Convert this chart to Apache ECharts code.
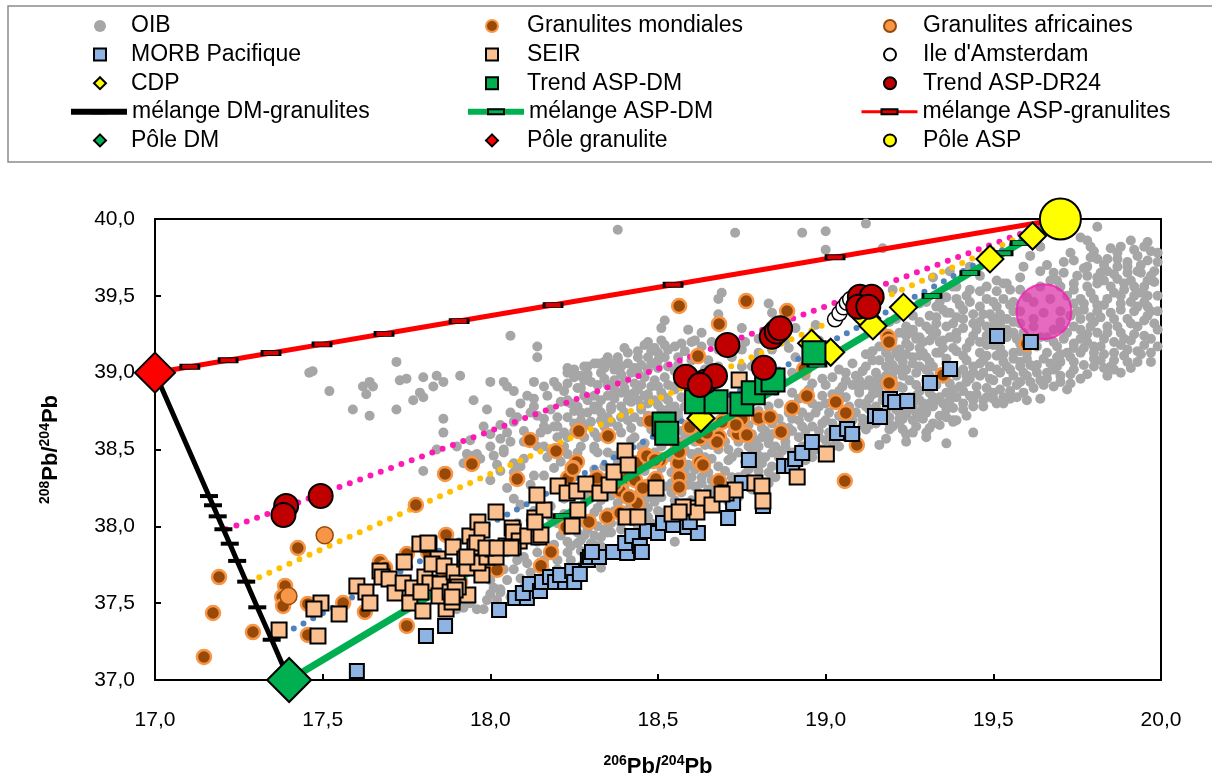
<!DOCTYPE html>
<html><head><meta charset="utf-8">
<script src="https://cdn.jsdelivr.net/npm/echarts@6/dist/echarts.min.js"></script>
<style>html,body{margin:0;padding:0;background:#fff}#c{width:1212px;height:778px}</style>
</head><body><div id="c"></div>
<script>
// ---------------- DATA (206Pb/204Pb, 208Pb/204Pb) ----------------
const oib = [
[17.46,39.00],[17.47,39.01],[17.52,38.88],[17.59,38.76],[17.62,38.91],[17.64,38.94],[17.63,38.86],[17.65,38.91],[17.64,38.72],[17.72,39.07],[17.72,38.76],[17.73,38.95],[17.75,38.96],[17.77,38.82],[17.79,38.87],[17.80,38.97],[17.80,38.84],[17.84,38.98],[17.83,38.91],[17.86,38.94],[17.86,38.70],[17.86,38.61],[17.91,38.98],[17.95,38.82],[17.99,38.76],[18.00,38.94],[18.04,38.94],[18.05,38.91],[18.07,38.88],[18.06,39.24],[18.14,39.17],[18.14,39.10],[18.23,39.03],[18.13,38.94],[18.16,38.91],[18.19,38.94],[18.20,38.91],[18.13,38.83],[18.13,38.78],[18.12,38.74],[18.08,38.71],[18.07,38.68],[18.05,38.61],[18.03,38.57],[18.04,38.50],[18.00,38.52],[17.93,38.47],[17.96,38.47],[17.84,38.50],[18.21,38.81],[18.23,38.81],[18.19,38.65],[18.16,38.65],[18.13,38.57],
[17.80,38.36],[18.24,38.80],[18.25,38.97],[18.27,38.98],[18.29,39.04],[18.28,38.95],[18.26,38.90],[18.14,38.72],[18.15,38.61],[18.17,38.63],[18.20,38.65],[18.20,38.58],[18.18,38.50],[18.16,38.52],[18.22,38.52],[18.26,38.48],[18.31,38.52],[18.32,38.48],[18.35,38.48],[18.31,38.61],[18.29,38.66],[18.27,38.74],[18.31,38.76],[18.29,38.82],[18.33,38.82],[18.31,38.85],[18.35,38.85],[18.37,38.83],[18.36,38.78],[18.39,38.78],[18.42,38.81],[18.39,38.71],[18.41,38.69],[18.32,38.92],[18.35,38.92],[18.37,38.92],[18.40,38.95],[18.43,38.93],[18.46,38.97],[18.49,38.95],[18.52,38.97],[18.34,39.03],[18.37,39.02],[18.39,39.04],[18.41,39.06],[18.44,39.10],[18.47,39.10],[18.50,39.13],[18.53,39.15],[18.55,39.17],[18.35,39.10],[18.38,39.10],[18.47,39.20],[18.51,39.29],[18.52,39.34],[18.49,39.16],[18.44,39.00],[18.47,39.02],[18.50,39.03],[18.53,39.04],[18.53,38.92],[18.55,38.89],[18.49,38.82],[18.52,38.84],[18.46,38.85],[18.43,38.87],[18.45,38.78],[18.55,38.78],[18.01,38.46],[18.04,38.48],[17.92,38.41],[18.02,38.40],[18.09,38.39],[18.13,38.33],[18.14,38.52],[18.21,38.42],[18.31,38.37],[18.34,38.39],[18.37,38.46],[18.45,38.52],[18.50,38.58],[18.52,38.55],[18.54,38.61],[18.54,38.48],[18.51,38.38],[18.55,38.37],[18.54,38.28],[18.48,38.19],[18.51,38.19],[18.57,38.22],
[18.38,39.93],[18.73,39.91],[18.93,39.91],[19.00,39.92],[19.12,39.97],[19.00,39.80],[19.17,39.81],[18.69,39.52],[18.68,39.48],[18.83,39.45],[18.84,39.39],[18.68,39.38],[18.75,39.29],[18.59,39.28],[18.61,39.21],[18.91,39.29],[18.97,39.31],[18.98,39.21],[19.33,39.43],[19.30,39.46],[19.20,39.54],[19.38,39.56],[19.35,39.41],[19.33,39.32],[19.37,39.39],[19.39,39.36],[19.30,39.30],[19.26,39.26],[19.28,39.23],[19.24,39.19],[19.31,39.21],[19.35,39.21],[19.39,39.26],[19.22,39.10],[19.26,39.10],[19.29,39.13],[19.33,39.13],[19.38,39.16],[19.16,39.08],[19.20,39.05],[19.24,39.02],[19.28,39.04],[19.32,39.04],[19.36,39.06],[19.08,39.06],[19.12,39.04],[19.06,39.00],[19.10,38.95],[19.15,38.95],[19.20,38.96],[19.25,38.95],[19.30,38.95],[19.35,38.96],[19.39,39.00],[18.96,38.93],[19.00,38.92],[19.05,38.91],[19.10,38.87],[19.15,38.87],[19.20,38.86],[19.25,38.84],[19.32,38.84],[19.38,38.87],[18.90,38.87],[18.90,38.78],[18.98,38.78],[19.07,38.78],[19.12,38.78],[19.18,38.76],[19.25,38.76],[19.30,38.74],[19.36,38.76],[18.92,38.69],[18.99,38.67],[19.08,38.69],[19.15,38.67],[19.20,38.65],[19.26,38.69],[19.32,38.67],[19.38,38.69],[18.96,38.55],[19.03,38.57],[19.10,38.54],[19.18,38.57],[19.24,38.55],[19.30,38.58],[19.36,38.54],[18.83,38.57],[18.88,38.55],[18.90,39.00],[18.87,38.95],[18.91,39.10],[18.88,39.21],[18.84,39.15],[18.89,39.16],[18.80,39.13],[18.75,39.15],[18.72,39.10],[18.68,39.15],[18.63,39.17],[18.57,39.19],[18.51,39.21],[18.46,39.18],[18.41,39.13],[18.38,39.08],[18.36,39.06],[18.31,39.06],[18.28,39.04],[18.25,39.02],[18.23,39.00],[18.23,38.93],[18.33,39.00],[18.37,38.95],[18.42,39.00],[18.56,39.10],[18.60,39.08],[18.65,39.08],[18.68,39.04],[18.75,39.04],[18.78,39.04],[18.39,38.87],[18.44,38.82],[18.48,38.91],[18.51,38.87],[18.55,38.91],[18.57,38.84],[18.51,38.76],[18.56,38.71],[18.43,38.71],[18.31,38.78],[18.23,38.82],[18.23,38.71],[18.27,38.69],[18.35,38.71],[18.32,38.58],[18.39,38.61],[18.43,38.58],[18.22,38.61],[18.63,39.26],
[19.81,39.95],[19.76,39.88],[19.78,39.86],[19.79,39.82],[19.80,39.79],[19.85,39.81],[19.88,39.82],[19.92,39.80],[19.95,39.82],[19.97,39.79],[19.99,39.72],[19.96,39.73],[19.93,39.76],[19.90,39.72],[19.87,39.74],[19.84,39.74],[19.81,39.74],[19.78,39.69],[19.74,39.73],[19.71,39.72],[19.68,39.65],[19.64,39.66],[19.61,39.76],[19.64,39.82],[19.75,39.63],[19.78,39.63],[19.82,39.65],[19.86,39.64],[19.90,39.65],[19.94,39.65],[19.97,39.63],[19.98,39.59],[19.95,39.56],[19.92,39.56],[19.89,39.58],[19.85,39.56],[19.81,39.58],[19.78,39.56],[19.74,39.54],[19.70,39.56],[19.76,39.48],[19.80,39.48],[19.84,39.48],[19.88,39.50],[19.92,39.50],[19.96,39.50],[19.93,39.43],[19.96,39.43],[19.96,39.37],[19.92,39.40],[19.88,39.41],[19.85,39.39],[19.81,39.40],[19.77,39.41],[19.73,39.37],[19.76,39.35],[19.80,39.33],[19.84,39.30],[19.88,39.26],[19.92,39.25],[19.95,39.24],[19.97,39.22],[19.99,39.17],[19.97,39.13],[19.93,39.14],[19.90,39.15],[19.86,39.13],[19.82,39.17],[19.80,39.17],[19.76,39.22],[19.72,39.26],[19.68,39.28],[19.66,39.23],[19.69,39.17],[19.72,39.13],[19.76,39.13],[19.80,39.09],[19.86,39.08],[19.74,39.07],[19.70,39.07],[19.66,39.13],[19.65,39.09],[19.60,39.09],[19.56,39.09],[19.62,39.04],[19.59,39.00],[19.63,39.00],[19.73,38.99],[19.60,38.82],[19.53,38.84],[19.44,38.61],[19.39,38.69],[19.41,38.76],[19.43,38.85],[19.23,38.70],[19.29,38.80],[19.26,38.78],[19.33,38.82],[19.36,38.87],[19.40,38.91],[19.45,38.91],[19.49,38.96],[19.54,38.94],[19.56,38.98],[19.52,39.00],[19.47,39.00],[19.42,38.98],[19.39,38.98],[19.31,38.98],[19.22,38.91],[19.19,38.89],[19.16,38.87],[19.18,38.98],[19.22,39.02],[19.31,39.07],[19.36,39.09],[19.41,39.11],[19.46,39.13],[19.51,39.11],[19.56,39.13],[19.60,39.13],[19.54,39.04],[19.49,39.04],[19.44,39.04],[19.21,39.13],[19.25,39.17],[19.29,39.20],[19.34,39.20],[19.39,39.22],[19.44,39.24],[19.48,39.24],[19.54,39.28],[19.56,39.33],[19.54,39.35],[19.50,39.35],[19.46,39.33],[19.41,39.35],[19.36,39.30],[19.31,39.28],[19.26,39.28],[19.22,39.26],[19.19,39.17],[19.21,39.35],[19.26,39.37],[19.31,39.37],[19.36,39.39],[19.41,39.41],[19.46,39.43],[19.51,39.43],[19.56,39.46],[19.55,39.54],[19.51,39.53],[19.46,39.53],[19.43,39.54],[19.39,39.48],[19.34,39.46],[19.46,39.63],[19.51,39.60],[19.54,39.58],[19.58,39.62],[19.59,39.69],[19.64,39.56],[19.67,39.48],[19.62,39.46],[19.65,39.39],[19.62,39.35],[19.43,39.69],[19.37,39.66],[19.32,39.62],[19.39,39.56],[19.36,39.49],[19.28,39.45],[19.25,39.41],[19.19,39.33],[19.17,39.27],[19.86,39.20],[19.90,39.35],[19.93,39.30],[19.86,39.35],[19.81,39.26],[19.76,39.28],[19.85,39.04],[19.80,39.04],[19.90,39.07],[19.93,39.07],[19.97,39.07],[19.72,38.89],[19.68,38.91],[19.66,38.96],[19.70,38.98],[19.76,38.96],[19.80,39.13],[19.54,39.23],[19.58,39.19],[19.39,39.14],[19.34,39.13],[19.28,39.11],[19.55,38.83],[19.48,38.84],[19.64,38.83],[19.58,38.94],[19.60,38.98],[19.39,38.84],[19.27,38.85],[19.22,38.82],[19.61,38.94],[19.50,38.95],
[19.38,38.68],[19.16,38.53],[19.22,38.70],[19.23,38.63],[19.19,38.63],[19.12,38.63],[19.16,38.69],[19.00,38.56],[19.04,38.52],[18.99,38.50],[18.96,38.45],[18.92,38.41],[18.89,38.37],[18.85,38.32],[18.83,38.28],[18.78,38.24],[18.74,38.19],[18.71,38.16],[18.60,38.17],[18.56,38.12],[18.52,38.09],[18.47,38.06],[18.44,38.00],[18.39,37.98],[18.36,37.96],[18.33,37.93],[18.30,37.89],[18.27,37.91],[18.24,37.87],[18.33,37.87],[18.29,37.80],[18.55,37.90],[18.38,38.15],[18.35,38.09],[18.31,38.09],[18.27,38.09],[18.23,38.00],[18.32,38.00],[18.41,38.11],[18.46,38.17],[18.54,38.22],[18.45,38.24],[18.39,38.22],[18.37,38.30],[18.54,38.35],[18.60,38.32],[18.63,38.28],[18.66,38.30],[18.72,38.32],[18.77,38.37],[18.81,38.41],[18.84,38.48],[18.88,38.52],[18.92,38.58],[18.96,38.65],[19.00,38.69],[19.12,38.80],[19.28,38.82],[19.31,38.87],[19.38,38.89],[19.21,38.76],[19.28,38.71],[19.26,38.61],[19.30,38.61],[18.89,38.74],[18.84,38.67],[18.81,38.58],[18.78,38.50],[18.74,38.48],[18.71,38.43],[18.68,38.39],[18.65,38.35],[18.61,38.37],[18.57,38.43],[18.58,38.50],[18.51,38.52],[18.46,38.54],[18.42,38.56],[18.39,38.50],[18.38,38.41],[18.31,38.50],[18.27,38.52],[18.23,38.58],[18.25,38.67],[18.32,38.78],[18.36,38.76],[18.41,38.82],[18.45,38.76],[18.53,38.82],[18.59,38.84],[18.56,38.74],[18.51,38.69],[18.66,38.63],[18.72,38.61],[18.77,38.52],[18.83,38.54],[18.89,38.64],[18.97,38.74],[19.00,38.80],[19.06,38.84],[19.10,38.89],[19.16,38.91],[18.24,37.78],[18.27,37.74],[18.33,37.73],
[18.00,37.65],[18.01,37.60],[17.99,37.52],[17.96,37.46],[17.92,37.47],[17.90,37.46],[17.98,37.46],[18.03,37.59],[18.05,37.65],[18.04,37.72],[18.07,37.72],[18.08,37.78],[18.11,37.76],[18.12,37.70],[18.09,37.66],[18.14,37.83],[18.20,37.78],[18.19,37.88],[18.14,37.90],[18.23,37.90],[18.26,37.96],[18.31,37.94],[18.35,37.96],[18.31,37.88],[18.35,37.99],[18.39,38.02],[18.29,37.98],[18.02,37.52],
[17.95,38.46],[17.93,38.41],[18.07,38.41],[18.07,38.35],[18.07,38.18],[18.09,38.14],[18.12,38.04],[18.25,37.98],[18.26,37.89],[18.15,37.63],[18.19,37.65],[18.13,37.59],[18.03,37.57],
[18.58,38.15],[18.62,38.22],[18.66,38.20],[18.70,38.25],[18.64,38.45],[18.68,38.50],[18.72,38.45],[18.76,38.42],[18.80,38.46],[18.70,38.55],[18.74,38.55],[18.78,38.60],[18.82,38.62],[18.86,38.60],[18.86,38.70],[18.90,38.62],[18.94,38.62],[18.93,38.52],[18.97,38.50],[19.01,38.61],[19.05,38.65],[19.09,38.60],[19.04,38.72],[19.09,38.74],[19.14,38.72],[19.02,38.86],[19.06,38.95],[18.99,38.96],[18.94,38.98],[19.13,38.83],[19.17,38.82],[18.80,38.36],[18.84,38.39],[18.74,38.32],[18.70,38.36],[18.78,38.30],[18.82,38.45],[18.86,38.45],[18.63,38.32],[18.59,38.27],[18.67,38.27],
[19.13,38.66],[19.19,38.71],[19.24,38.73],[19.29,38.77],[19.34,38.72],[19.41,38.80],[19.45,38.86],[19.48,38.90],[19.52,38.89],[19.57,38.92],[19.43,38.96],[19.46,39.06],[19.42,39.16],[19.48,39.18],[19.52,39.16],[19.58,39.07],[19.53,39.07],[19.63,39.05],[19.68,39.02],[19.45,39.28],[19.50,39.30],[19.59,39.26],[19.62,39.30],[19.58,39.40],[19.53,39.48],[19.48,39.48],[19.43,39.46],[19.40,39.44],[19.33,39.36],[19.28,39.33],[19.24,39.30],[19.20,39.22],[19.16,39.17],[19.12,39.12],[19.15,39.00],[19.20,39.00],
[19.70,39.40],[19.74,39.45],[19.70,39.33],[19.74,39.30],[19.78,39.25],[19.83,39.22],[19.88,39.18],[19.91,39.21],[19.95,39.18],[19.99,39.28],[19.99,39.40],[19.99,39.50],[19.98,39.66],[19.99,39.78],[19.96,39.85],[19.91,39.86],[19.87,39.78],[19.83,39.70],[19.79,39.75],[19.73,39.78],[19.69,39.60],[19.72,39.50],[19.83,39.44],[19.88,39.45],[19.91,39.46],[19.95,39.46],[19.79,39.52],[19.83,39.60],[19.87,39.61],[19.91,39.60],[19.94,39.70],[19.90,39.69],[19.87,39.69],[19.83,39.12],[19.89,39.11],[19.83,39.03],[19.77,39.05],[19.74,39.02],[19.69,39.04],[19.78,38.99],[19.84,38.98],[19.88,39.00],
[18.25,38.05],[18.28,38.15],[18.32,38.12],[18.36,38.20],[18.40,38.25],[18.43,38.20],[18.47,38.12],[18.50,38.10],[18.52,38.02],[18.48,38.02],[18.44,38.07],[18.40,38.05],[18.36,38.02],[18.30,38.04],[18.34,37.98],[18.28,37.94],[18.21,37.94],[18.42,38.33],[18.46,38.36],[18.50,38.32],[18.52,38.26],[18.57,38.32],[18.59,38.40],[18.63,38.40],[18.58,38.57],[18.61,38.55],
[18.25,38.62],[18.28,38.58],[18.25,38.75],[18.28,38.85],[18.30,38.68],[18.34,38.65],[18.33,38.74],[18.38,38.65],[18.40,38.74],[18.42,38.64],[18.45,38.68],[18.47,38.72],[18.48,38.63],[18.52,38.65],[18.40,38.90],[18.45,38.92],[18.43,39.03],[18.48,39.06],[18.52,39.10],[18.56,39.05],[18.58,38.98],[18.60,38.92],[18.62,38.98],[18.64,39.02],[18.58,39.14],[18.60,39.20],[18.66,39.20],[18.70,39.22],[18.72,39.18],[18.76,39.20],[18.80,39.22],[18.79,39.08],[18.30,38.94],[18.27,38.90],
[18.05,37.83],[18.10,37.80],[18.16,37.78],[18.17,37.70],[18.20,37.72],[18.06,37.54],[18.10,37.60],[17.94,37.50],[18.00,37.56],[18.23,37.83],[18.27,37.84],
[17.97,38.44],[18.03,38.36],[18.10,38.44],[18.12,38.27],[18.16,38.33],[18.19,38.38],[18.17,38.45],[18.23,38.47],[18.05,38.25],[18.00,38.30],
[18.61,38.26],[18.65,38.24],[18.69,38.30],[18.73,38.27],[18.76,38.34],[18.79,38.40],[18.83,38.35],[18.87,38.41],[18.91,38.46],[18.95,38.49],[18.62,38.48],[18.66,38.53],[18.69,38.58],[18.73,38.66],[18.77,38.66],[18.80,38.52],[18.85,38.52],[18.88,38.59],[18.93,38.65],[18.95,38.71],[18.98,38.58],[19.02,38.52],[19.06,38.58],[19.07,38.68],[19.11,38.70],[19.10,38.80],[19.15,38.78],[19.19,38.80],[19.23,38.78],[19.27,38.74],[19.32,38.78],[19.35,38.80],[19.38,38.77],[19.42,38.72],[19.44,38.78],[19.47,38.82],[19.51,38.80],[19.50,38.87],[19.55,38.88],[19.59,38.87],[19.62,38.90],[19.65,38.92],[19.66,39.00],[19.70,38.94],[19.73,38.93],[19.69,39.10],[19.74,39.16],[19.78,39.20],[19.82,39.08],[19.86,39.02],[19.91,39.03],[19.94,39.12],
[19.14,38.90],[19.18,38.93],[19.23,38.90],[19.27,38.92],[19.33,38.92],[19.37,38.93],[19.42,38.94],[19.44,39.00],[19.47,39.08],[19.50,39.18],[19.52,39.22],[19.57,39.22],[19.49,39.38],[19.44,39.38],[19.38,39.32],[19.33,39.26],[19.28,39.16],[19.24,39.12],[19.18,39.13],[19.14,39.08],[19.13,38.95],[19.09,38.98],[19.04,39.02],
[18.22,38.08],[18.26,38.13],[18.29,38.20],[18.33,38.25],[18.35,38.32],[18.39,38.36],[18.43,38.43],[18.47,38.40],[18.49,38.48],[18.53,38.45],[18.56,38.55],[18.48,38.30],[18.44,38.28],[18.40,38.18],[18.46,38.22],[18.50,38.20],[18.55,38.17],[18.58,38.08],
[18.00,38.60],[18.03,38.66],[18.06,38.74],[18.09,38.80],[18.10,38.62],[18.11,38.85],[18.17,38.85],[18.18,38.76],[18.20,38.71],[18.22,38.88],[18.16,38.70],[18.10,38.55],[18.06,38.55],[17.98,38.65],[17.94,38.56],[17.90,38.52],
[19.01,38.74],[19.03,38.83],[19.05,38.70],[19.07,38.62],[19.11,38.66],[19.13,38.76],[19.17,38.73],[19.19,38.67],[19.02,38.97],[19.04,38.88],[19.08,38.92],[19.12,38.92],[19.14,38.86],[19.17,38.96],[19.11,39.01],[19.18,39.04],[19.14,39.14],[19.19,39.09],
[19.22,38.67],[19.24,38.60],[19.27,38.65],[19.29,38.70],[19.31,38.64],[19.34,38.66],[19.36,38.71],[19.22,38.74],[19.25,38.81],[19.28,38.88],[19.31,38.80],[19.34,38.84],[19.37,38.82],[19.23,38.98],[19.27,39.00],[19.30,39.02],[19.34,39.00],[19.37,39.03],[19.23,39.07],[19.26,39.06],[19.30,39.10],[19.35,39.16],[19.27,39.22],[19.32,39.24],[19.37,39.23],[19.24,39.24],[19.22,39.15],
[19.41,38.88],[19.44,38.82],[19.47,38.78],[19.50,38.83],[19.53,38.80],[19.57,38.84],[19.41,39.02],[19.46,38.98],[19.51,39.02],[19.55,39.02],[19.58,39.04],[19.42,39.08],[19.48,39.11],[19.53,39.12],[19.58,39.14],[19.43,39.20],[19.46,39.20],[19.51,39.26],[19.56,39.26],[19.41,39.29],[19.48,39.30],[19.52,39.32],[19.44,39.32],[19.58,39.32],[19.47,39.38],[19.52,39.38],[19.56,39.40],[19.50,39.46],[19.55,39.44],[19.42,39.50],[19.48,39.56],[19.53,39.58],[19.58,39.54],[19.60,39.49],
[19.61,39.05],[19.64,38.95],[19.67,39.06],[19.70,39.12],[19.73,39.10],[19.63,39.17],[19.64,39.23],[19.68,39.20],[19.71,39.22],[19.74,39.19],[19.77,39.16],[19.70,39.29],[19.75,39.40],[19.77,39.45],[19.74,39.58],[19.71,39.65],[19.67,39.60],[19.66,39.70],[19.77,39.68],[19.81,39.62],[19.79,39.36],[19.79,39.30],[19.82,39.36],[19.81,39.44],[19.86,39.52],[19.84,39.66],[19.93,39.66],[19.96,39.60],[19.89,39.54],[19.94,39.52],[19.97,39.40],[19.91,39.32],[19.95,39.34],[19.98,39.32],[19.87,39.30],[19.84,39.26],[19.89,39.22],
[18.71,38.50],[18.75,38.58],[18.79,38.56],[18.81,38.64],[18.84,38.60],[18.87,38.65],[18.90,38.70],[18.93,38.74],[18.96,38.80],[18.99,38.85],[18.92,38.83],[18.95,38.89],[18.86,38.80],[18.83,38.78],[18.80,38.75],[18.76,38.72],[18.73,38.72],[18.90,38.48],[18.94,38.43],[18.87,38.49],[18.98,38.62],[19.02,38.67],[18.85,38.88],[18.82,38.92],[18.79,38.84],
[18.58,38.36],[18.62,38.42],[18.66,38.44],[18.60,38.47],[18.64,38.53],[18.67,38.60],[18.63,38.62],[18.60,38.60],[18.57,38.62],[18.66,38.68],[18.70,38.67],[18.64,38.72],[18.61,38.75],[18.67,38.78],[18.53,38.70],[18.58,38.78],
[18.26,38.78],[18.29,38.74],[18.33,38.69],[18.36,38.68],[18.37,38.88],[18.41,38.86],[18.44,38.89],[18.47,38.86],[18.50,38.91],[18.47,38.80],[18.50,38.79],[18.53,38.76],[18.34,38.96],[18.39,38.99],[18.45,39.05],[18.50,39.08],[18.55,39.01],[18.29,38.99],[18.32,39.06],[18.34,39.07],[18.44,39.14],[18.48,39.14],[18.52,39.18],[18.40,39.16],
[18.08,38.02],[18.13,38.10],[18.18,38.13],[18.18,38.06],[18.22,38.18],[18.20,38.02],[18.28,38.02],[18.26,38.24],[18.31,38.28],[18.33,38.17],[18.37,38.10],[18.42,38.15],[18.45,38.10],[18.49,38.16]
];
const granulitesMondiales = [
[17.865,38.341],[17.945,38.406],[17.778,38.139],[17.868,37.944],[17.426,37.859],[17.191,37.670],[17.671,37.768],[17.751,37.820],[17.686,37.730],[17.388,37.612],[17.379,37.540],[17.382,37.482],[17.456,37.495],[17.561,37.501],[17.626,37.443],[17.173,37.436],[17.292,37.312],[17.456,37.293],[17.751,37.352],[17.146,37.150],
[18.563,39.434],[18.763,39.466],[18.885,39.401],[18.682,39.317],[18.619,39.108],
[18.118,38.562],[18.264,38.620],[18.351,38.588],[18.196,38.490],[18.080,38.308],[18.258,38.419],[18.246,38.380],[18.232,38.315],[18.318,38.315],[18.476,38.686],[18.461,38.464],[18.437,38.412],[18.485,38.425],[18.506,38.432],[18.410,38.315],[18.431,38.302],[18.387,38.230],[18.467,38.256],[18.560,38.516],[18.560,38.412],[18.563,38.321],
[18.294,38.028],[18.226,37.996],[18.348,38.061],[18.387,38.087],[18.437,38.152],[18.020,37.717],[17.978,37.768],[18.151,37.743],[18.181,37.833],[17.814,37.833],[17.865,37.651],[17.910,37.638],[18.372,38.269],[18.455,38.250],[18.413,38.191],[18.318,38.223],
[18.944,38.848],[18.900,38.770],[19.030,38.809],[19.060,38.738],[19.192,38.926],[18.867,38.614],[18.801,38.705],[18.834,38.712],[18.750,38.699],[18.691,38.679],[18.682,38.581],[18.676,38.549],[18.625,38.575],[18.646,38.607],[18.595,38.646],[18.738,38.601],[18.765,38.594],[18.563,38.484],[18.467,38.458],[18.491,38.432],[18.625,38.419],[18.634,38.399],[18.682,38.295],[18.563,38.256],[18.494,38.308],[18.246,38.373],[19.057,38.295],[19.093,38.529],[18.936,39.024],[18.732,38.660],
[19.186,39.232],[19.189,39.200],[19.350,38.985],[19.189,38.933],[19.600,39.187]
];
const granulitesAfricaines = [[17.506,37.942],[17.398,37.547]];
const morbPacifique = [
[17.602,37.059],[17.808,37.286],[17.865,37.352],[18.026,37.456],[18.074,37.534],[18.109,37.534],[18.097,37.566],[18.118,37.625],[18.148,37.579],[18.154,37.638],[18.178,37.670],[18.193,37.638],[18.223,37.638],[18.208,37.683],[18.244,37.709],[18.250,37.638],[18.267,37.690],[18.291,37.781],[18.297,37.800],[18.324,37.800],[18.303,37.833],[18.366,37.833],[18.408,37.827],[18.402,37.892],[18.423,37.937],[18.446,37.872],[18.452,37.833],[18.467,37.970],[18.500,37.957],[18.515,38.022],[18.545,38.009],[18.587,37.996],[18.619,37.957],[18.595,38.028],[18.709,38.054],[18.724,38.152],[18.750,38.282],[18.771,38.432],[18.813,38.132],[18.876,38.393],[18.900,38.393],[18.909,38.438],[18.930,38.477],[18.959,38.549],[19.034,38.607],[19.064,38.633],[19.079,38.601],[19.147,38.718],[19.192,38.829],[19.207,38.809],[19.243,38.816],[19.311,38.933],[19.371,39.024],[19.511,39.239],[19.612,39.200],[19.162,38.712]
];
const seir = [
[17.370,37.326],[17.486,37.286],[17.495,37.501],[17.474,37.462],[17.549,37.430],[17.602,37.612],[17.629,37.573],[17.641,37.501],[17.743,37.768],[17.671,37.709],[17.677,37.670],[17.698,37.657],[17.716,37.566],[17.740,37.631],[17.769,37.599],[17.760,37.501],[17.790,37.885],[17.817,37.885],[17.805,37.670],[17.820,37.631],[17.793,37.573],[17.799,37.449],[17.844,37.788],[17.826,37.755],[17.862,37.742],[17.850,37.625],[17.868,37.462],[17.847,37.547],[17.889,37.866],[17.892,37.703],[17.901,37.631],[17.924,37.788],[17.930,37.729],[17.939,37.937],[17.933,37.553],[17.954,37.866],[17.880,37.573],[17.886,37.508],[17.963,38.028],[17.904,37.605],[17.975,37.976],[18.017,38.093],[17.960,37.892],[17.975,37.683],[17.963,37.761],[17.990,37.800],[18.008,37.853],[18.017,37.800],[18.047,37.872],[18.065,37.989],[18.068,37.963],[18.086,37.905],[18.068,37.866],[18.112,37.937],[18.133,38.054],[18.145,37.931],[18.160,38.106],[18.139,38.204],[18.202,38.263],[18.229,38.217],[18.258,38.230],[18.285,38.276],[18.261,38.106],[18.244,38.002],[18.327,38.217],[18.354,38.269],[18.369,38.354],[18.405,38.061],[18.440,38.061],[18.402,38.490],[18.411,38.399],[17.814,37.892],[17.987,37.859],[18.020,37.859],[18.062,37.859],[18.151,37.944],[18.133,38.028],[17.895,37.586],[17.886,37.540],[17.930,37.800],[18.494,38.250],[18.542,38.080],[18.595,38.119],[18.616,38.093],[18.634,38.184],[18.661,38.139],[18.703,38.217],[18.730,38.236],[18.789,38.282],[18.810,38.263],[18.813,38.165],[18.915,38.321],[19.002,38.471],[18.742,38.952],[18.691,38.210],[18.575,38.126],[18.563,38.093]
];
const ileAmsterdam = [[19.028,39.347],[19.041,39.386],[19.053,39.425],[19.063,39.455],[19.073,39.477]];
const cdp = [[19.617,39.889],[19.490,39.740],[19.232,39.425],[19.122,39.354],[19.141,39.304],[19.015,39.133],[18.958,39.191],[18.628,38.703]];
const trendAspDm = [[18.965,39.130],[18.615,38.811],[18.673,38.811],[18.750,38.796],[18.784,38.870],[18.824,38.935],[18.843,38.952],[18.518,38.666],[18.526,38.606]];
const trendAspDr24 = [[19.102,39.494],[19.137,39.494],[19.097,39.429],[19.127,39.429],[18.839,39.234],[18.854,39.267],[18.864,39.289],[18.707,39.180],[18.816,39.032],[18.583,38.974],[18.640,38.941],[18.670,38.978],[18.625,38.920],[17.391,38.132],[17.383,38.074],[17.494,38.197]];
const poleDM = [17.4, 37.0];
const poleGranulite = [17.0, 39.0];
const poleASP = [19.7, 40.0];
const magentaPole = [19.651, 39.397];
const ticksDmGranulites = [[17.348,37.262],[17.305,37.473],[17.272,37.640],[17.245,37.775],[17.223,37.887],[17.204,37.981],[17.187,38.065],[17.173,38.137],[17.161,38.197]];
const ticksAspDm = [[18.217,38.066],[18.974,39.053],[19.317,39.500],[19.430,39.648],[19.529,39.777],[19.580,39.843]];
const ticksAspGranulites = [[17.104,39.0385],[17.218,39.0807],[17.346,39.128],[17.498,39.184],[17.683,39.253],[17.907,39.336],[18.187,39.440],[18.545,39.572],[19.028,39.751]];
const dottedPinkStart = [17.212, 37.981];
const dottedGoldStart = [17.281, 37.640];
const dottedBlueStart = [17.356, 37.267];
const xTickLabels = ['17,0','17,5','18,0','18,5','19,0','19,5','20,0'];
const yTickLabels = ['37,0','37,5','38,0','38,5','39,0','39,5','40,0'];

// ---------------- CHART ----------------
const FONT = '"Liberation Sans", Arial, sans-serif';
// legend icon for the mixing lines: a 16x5 bar inside a square box
const BAR = 'path://M0 0H16V5H0Z M0 -5.5 M0 10.5';
const chart = echarts.init(document.getElementById('c'), null, {renderer: 'canvas'});
function mix(a, pts, b) {
  return [{value: a, symbol: 'none'}]
    .concat(pts.map(p => ({value: p, symbol: 'rect'})))
    .concat([{value: b, symbol: 'none'}]);
}
function sc(name, data, symbol, size, fill, border, bw, z) {
  return {name, type: 'scatter', data, symbol, symbolSize: size, z,
    itemStyle: {color: fill, borderColor: border, borderWidth: bw, opacity: 1}, emphasis: {disabled: true}};
}
const ROW0 = 26, ROWH = 28.6, TXT = 24;
function lg(left, row, names, kind, padLeft, lineW) {
  const base = {orient: 'vertical', left, top: ROW0 + row * ROWH - TXT / 2,
    itemGap: ROWH - TXT, selectedMode: false, padding: 0, data: names,
    textStyle: {fontSize: 23, fontFamily: FONT, color: '#000', lineHeight: TXT, padding: [0, 0, 0, padLeft]}};
  if (kind === 'line') {
    Object.assign(base, {itemWidth: 56, itemHeight: 20, lineStyle: {width: lineW}});
  } else {
    Object.assign(base, {itemWidth: 12, itemHeight: 12});
  }
  return base;
}
const option = {
  animation: false,
  backgroundColor: '#fff',
  grid: {left: 155, right: 51, top: 219, bottom: 98, containLabel: false, outerBoundsMode: 'none'},
  graphic: [{type: 'rect', shape: {x: 8, y: 6, width: 1230, height: 156},
    style: {fill: 'none', stroke: '#8c8c8c', lineWidth: 1.5}, z: 0}],
  legend: [
    lg(93, 0, ['OIB','MORB Pacifique','CDP'], 'pt', 20),
    lg(68, 3, ['mélange DM-granulites'], 'line', 0, 6),
    lg(93, 4, ['Pôle DM'], 'pt', 20),
    lg(485, 0, ['Granulites mondiales','SEIR','Trend ASP-DM'], 'pt', 24),
    lg(465, 3, ['mélange ASP-DM'], 'line', 0, 6),
    lg(485, 4, ['Pôle granulite'], 'pt', 24),
    lg(883, 0, ['Granulites africaines',"Ile d'Amsterdam",'Trend ASP-DR24'], 'pt', 22),
    lg(860, 3, ['mélange ASP-granulites'], 'line', 0, 3),
    lg(883, 4, ['Pôle ASP'], 'pt', 22)
  ],
  xAxis: [{
    type: 'value', min: 17, max: 20, interval: 0.5,
    name: '{s|206}{b|Pb/}{s|204}{b|Pb}', nameLocation: 'middle', nameGap: 74,
    nameTextStyle: {rich: {
      b: {fontSize: 22, fontWeight: 'bold', fontFamily: FONT, color: '#000', lineHeight: 26},
      s: {fontSize: 14, fontWeight: 'bold', fontFamily: FONT, color: '#000', verticalAlign: 'top', lineHeight: 14}}},
    axisLine: {show: true, onZero: false, lineStyle: {color: '#000', width: 2}},
    axisTick: {show: true, inside: true, length: 6, lineStyle: {color: '#000', width: 2}},
    axisLabel: {margin: 30, fontSize: 21, fontFamily: FONT, color: '#000',
      formatter: v => xTickLabels[Math.round((v - 17) / 0.5)]},
    splitLine: {show: false}
  }, {
    type: 'value', min: 17, max: 20, position: 'top',
    axisLine: {show: true, onZero: false, lineStyle: {color: '#000', width: 2}},
    axisTick: {show: false}, axisLabel: {show: false}, splitLine: {show: false}
  }],
  yAxis: [{
    type: 'value', min: 37, max: 40, interval: 0.5,
    name: '{s|208}{b|Pb/}{s|204}{b|Pb}', nameLocation: 'middle', nameGap: 91, nameRotate: 90,
    nameTextStyle: {rich: {
      b: {fontSize: 22, fontWeight: 'bold', fontFamily: FONT, color: '#000', lineHeight: 26},
      s: {fontSize: 14, fontWeight: 'bold', fontFamily: FONT, color: '#000', verticalAlign: 'top', lineHeight: 14}}},
    axisLine: {show: true, onZero: false, lineStyle: {color: '#000', width: 2}},
    axisTick: {show: true, inside: true, length: 6, lineStyle: {color: '#000', width: 2}},
    axisLabel: {margin: 20, fontSize: 21, fontFamily: FONT, color: '#000',
      formatter: v => yTickLabels[Math.round((v - 37) / 0.5)]},
    splitLine: {show: false}
  }, {
    type: 'value', min: 37, max: 40, position: 'right',
    axisLine: {show: true, onZero: false, lineStyle: {color: '#000', width: 2}},
    axisTick: {show: false}, axisLabel: {show: false}, splitLine: {show: false}
  }],
  series: [
    sc('OIB', oib, 'circle', 10, '#a6a6a6', '#a6a6a6', 0, 2),
    {name: 'magenta', type: 'scatter', data: [magentaPole], symbol: 'circle', symbolSize: 55, z: 3,
      itemStyle: {color: 'rgba(222,55,170,0.93)', borderColor: '#f21cb0', borderWidth: 2}},
    {name: 'dotPink', type: 'line', data: [dottedPinkStart, poleASP], symbol: 'none', z: 4,
      lineStyle: {color: '#ff19b4', width: 6, type: [0, 11], cap: 'round'}},
    {name: 'dotGold', type: 'line', data: [dottedGoldStart, poleASP], symbol: 'none', z: 4,
      lineStyle: {color: '#ffc000', width: 6, type: [0, 11], cap: 'round'}},
    {name: 'dotBlue', type: 'line', data: [dottedBlueStart, poleASP], symbol: 'none', z: 4,
      lineStyle: {color: '#4f81bd', width: 6, type: [0, 11], cap: 'round'}},
    sc('Granulites mondiales', granulitesMondiales, 'circle', 14, '#984807', '#f79646', 2.5, 5),
    sc('Granulites africaines', granulitesAfricaines, 'circle', 17, '#f79646', '#984807', 1.5, 5),
    {name: 'mélange ASP-DM', type: 'line', data: mix(poleDM, ticksAspDm, poleASP), z: 6,
      symbol: BAR, symbolSize: [18, 5], showSymbol: true,
      lineStyle: {color: '#00b050', width: 7}, itemStyle: {color: '#00b050', borderColor: '#000', borderWidth: 1.5}},
    sc('MORB Pacifique', morbPacifique, 'rect', 14, '#8db4e2', '#000', 2, 7),
    sc('SEIR', seir, 'rect', 15, '#fac090', '#000', 2, 7),
    {name: 'mélange DM-granulites', type: 'line', data: mix(poleDM, ticksDmGranulites, poleGranulite), z: 8,
      symbol: BAR, symbolSize: [18, 4], showSymbol: true,
      lineStyle: {color: '#000', width: 5}, itemStyle: {color: '#000', borderColor: '#000', borderWidth: 0}},
    {name: 'mélange ASP-granulites', type: 'line', data: mix(poleGranulite, ticksAspGranulites, poleASP), z: 8,
      symbol: BAR, symbolSize: [18, 5], showSymbol: true,
      lineStyle: {color: '#ff0000', width: 5}, itemStyle: {color: '#e00000', borderColor: '#000', borderWidth: 1.5}},
    sc("Ile d'Amsterdam", ileAmsterdam, 'circle', 15, '#ffffff', '#000', 1.5, 9),
    sc('CDP', cdp, 'diamond', 27, '#ffff00', '#000', 2, 10),
    sc('Trend ASP-DM', trendAspDm, 'rect', 23, '#00b050', '#000', 2, 11),
    sc('Trend ASP-DR24', trendAspDr24, 'circle', 24, '#c00000', '#000', 2, 12),
    sc('Pôle DM', [poleDM], 'diamond', 44, '#00b050', '#000', 2, 13),
    sc('Pôle granulite', [poleGranulite], 'diamond', 40, '#ff0000', '#000', 2, 13),
    sc('Pôle ASP', [poleASP], 'circle', 41, '#ffff00', '#000', 2, 13)
  ]
};
chart.setOption(option);
</script>
</body></html>
